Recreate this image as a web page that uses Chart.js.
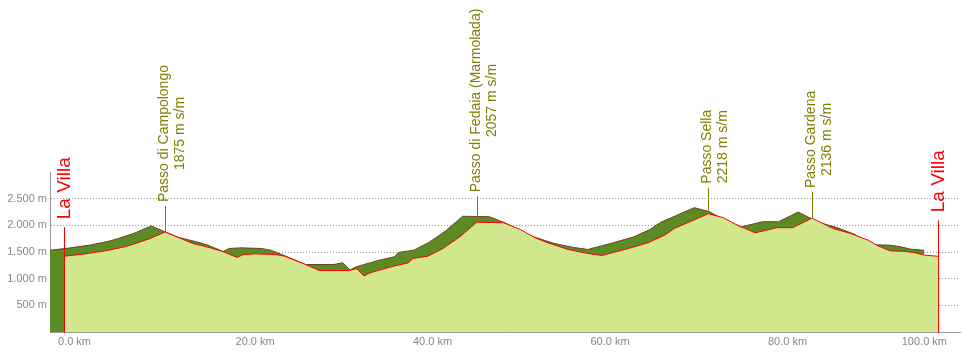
<!DOCTYPE html>
<html>
<head>
<meta charset="utf-8">
<title>Altimetria</title>
<script src="https://cdn.jsdelivr.net/npm/chart.js"></script>
<style>
  html, body { margin: 0; padding: 0; background: #fff; }
</style>
</head>
<body>
<canvas id="profileChart" width="962" height="355"></canvas>
<script>
// route profile (km / m s.l.m.)
const distanceKm = [0, 2.1, 4.6, 6.5, 7.7, 9.5, 11.4, 14.5, 16.5, 17.8, 19.5, 20.2, 21.5, 23.8, 24.9,
    27.2, 28.8, 32.0, 33.0, 33.8, 34.5, 37.1, 38.8, 39.3, 41.0, 42.7, 44.6, 46.5, 49.5, 51.4,
    53.1, 54.5, 56.8, 59.0, 60.6, 63.2, 65.8, 67.7, 68.8, 72.6, 74.3, 76.2, 76.7, 77.9, 79.2,
    80.3, 82.1, 84.3, 86.6, 88.6, 90.6, 91.7, 93.1, 94.5, 95.7, 97.0, 98.5];
const elevationM = [1420, 1460, 1520, 1585, 1640, 1740, 1875, 1660, 1578, 1515, 1397, 1453, 1465, 1453, 1421,
    1265, 1152, 1152, 1186, 1050, 1110, 1233, 1296, 1378, 1422, 1567, 1785, 2057, 2049, 1924,
    1766, 1672, 1548, 1473, 1435, 1548, 1672, 1817, 1943, 2218, 2143, 1973, 1943, 1860, 1911,
    1955, 1955, 2136, 1943, 1849, 1723, 1616, 1521, 1516, 1491, 1440, 1420];

const passNames = ['Passo di Campolongo', 'Passo di Fedaia (Marmolada)', 'Passo Sella', 'Passo Gardena'];
const passKm = [11.4, 46.5, 72.6, 84.3];
const passElev = [1875, 2057, 2218, 2136];

const townNames = ['La Villa', 'La Villa'];
const townKm = [0, 98.5];
const townElev = [1420, 1420];

const xTicks = [0, 20, 40, 60, 80, 100];
const yTicks = [500, 1000, 1500, 2000, 2500];

// offset of the "3d" back layer
const shadowDx = -1.58;
const shadowDy = 113;

const FONT = '"Liberation Sans", Arial, sans-serif';
const OLIVE = '#808000';

function formatMeters(v) {
    if (v >= 1000) {
        return Math.floor(v / 1000) + '.' + String(v % 1000).padStart(3, '0') + ' m';
    }
    return v + ' m';
}

const frontData = distanceKm.map((km, i) => ({ x: km, y: elevationM[i] }));
const backData = distanceKm.map((km, i) => ({ x: km + shadowDx, y: elevationM[i] + shadowDy }));

const profileMarks = {
    id: 'profileMarks',
    afterDatasetsDraw(chart) {
        const ctx = chart.ctx;
        const xs = chart.scales.x;
        const ys = chart.scales.y;
        const bottom = chart.chartArea.bottom;
        ctx.save();

        // passes
        ctx.strokeStyle = OLIVE;
        ctx.fillStyle = OLIVE;
        ctx.lineWidth = 1;
        ctx.font = '14px ' + FONT;
        passNames.forEach((name, i) => {
            const px = Math.round(xs.getPixelForValue(passKm[i])) + 0.5;
            const py = ys.getPixelForValue(passElev[i]);
            ctx.beginPath();
            ctx.moveTo(px, py);
            ctx.lineTo(px, py - 26);
            ctx.stroke();
            const lines = [name, passElev[i] + ' m s/m'];
            const w = Math.max(...lines.map(l => ctx.measureText(l).width));
            ctx.save();
            ctx.translate(px, py - 30);
            ctx.rotate(-Math.PI / 2);
            ctx.textAlign = 'center';
            ctx.textBaseline = 'middle';
            lines.forEach((l, j) => ctx.fillText(l, w / 2, -1 + j * 15.5));
            ctx.restore();
        });

        // start / finish
        const lifts = [29, 36];
        ctx.strokeStyle = '#ff0000';
        ctx.fillStyle = '#ff0000';
        ctx.font = '19px ' + FONT;
        townNames.forEach((name, i) => {
            const px = Math.round(xs.getPixelForValue(townKm[i])) + 0.5;
            const top = ys.getPixelForValue(townElev[i]) - lifts[i];
            ctx.beginPath();
            ctx.moveTo(px, top);
            ctx.lineTo(px, bottom + 1);
            ctx.stroke();
            ctx.save();
            ctx.translate(px, top - 8);
            ctx.rotate(-Math.PI / 2);
            ctx.textAlign = 'left';
            ctx.textBaseline = 'middle';
            ctx.fillText(name, 0, 0);
            ctx.restore();
        });
        ctx.restore();
    },
    afterDraw(chart) {
        // km labels, left aligned to the tick, kept inside the canvas
        const ctx = chart.ctx;
        const xs = chart.scales.x;
        const yLab = chart.chartArea.bottom + 10;
        ctx.save();
        ctx.font = '11px ' + FONT;
        ctx.fillStyle = '#888';
        ctx.textBaseline = 'middle';
        ctx.textAlign = 'left';
        xTicks.forEach(v => {
            const label = v.toFixed(1) + ' km';
            const w = ctx.measureText(label).width;
            let lx = xs.getPixelForValue(v) - 6;
            if (lx + w > chart.width - 15) lx = chart.width - 15 - w;
            ctx.fillText(label, lx, yLab);
        });
        ctx.restore();
    }
};

const ctx = document.getElementById('profileChart').getContext('2d');
new Chart(ctx, {
    type: 'line',
    data: {
        datasets: [
            {
                label: 'profilo',
                data: frontData,
                fill: 'origin',
                backgroundColor: '#d1e78e',
                borderColor: '#ff0000',
                borderWidth: 1,
                pointRadius: 0,
                tension: 0
            },
            {
                label: 'ombra',
                data: backData,
                fill: 'origin',
                backgroundColor: '#5b8c24',
                borderColor: '#6b4226',
                borderWidth: 1,
                pointRadius: 0,
                tension: 0
            }
        ]
    },
    options: {
        responsive: false,
        animation: false,
        layout: { padding: { top: 172, right: 2, left: 0, bottom: 0 } },
        plugins: {
            legend: { display: false },
            tooltip: { enabled: false }
        },
        scales: {
            x: {
                type: 'linear',
                min: -1.58,
                max: 100.96,
                afterBuildTicks: s => { s.ticks = xTicks.map(v => ({ value: v })); },
                afterFit: s => { s.height = 23; },
                ticks: { display: false },
                grid: { display: false },
                border: { display: true, color: '#999', width: 1 }
            },
            y: {
                min: 0,
                max: 3000,
                afterBuildTicks: s => { s.ticks = yTicks.map(v => ({ value: v })); },
                afterFit: s => { s.width = 50; },
                ticks: {
                    padding: 3,
                    color: '#888',
                    font: { family: FONT, size: 11 },
                    callback: v => formatMeters(v)
                },
                grid: { color: '#999', drawTicks: false },
                border: { display: true, color: '#999', width: 1, dash: [1, 2] }
            }
        }
    },
    plugins: [profileMarks]
});
</script>
</body>
</html>
